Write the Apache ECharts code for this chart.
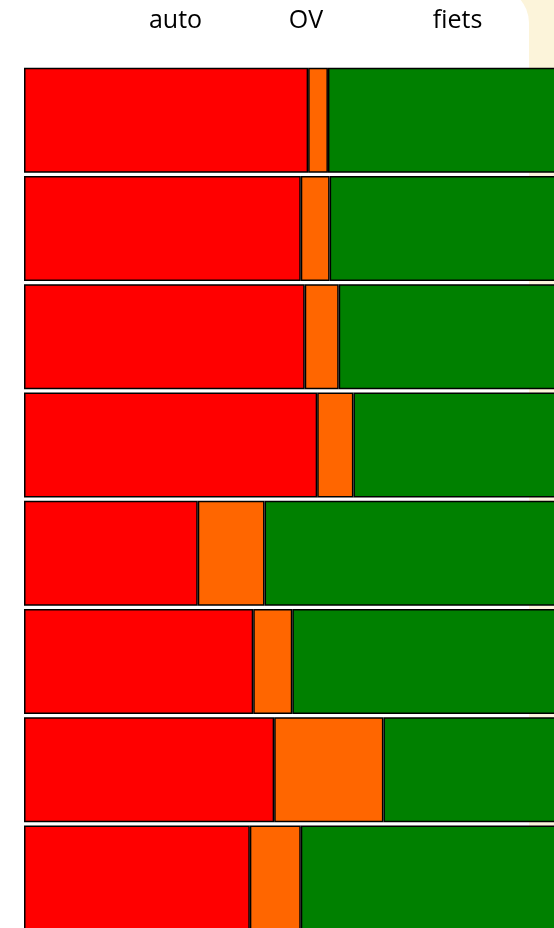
<!DOCTYPE html>
<html>
<head>
<meta charset="utf-8">
<script src="https://cdn.jsdelivr.net/npm/echarts@6/dist/echarts.min.js"></script>
<style>
html,body{margin:0;padding:0;background:#fcf4da;}
#chart{width:554px;height:928px;}
</style>
</head>
<body>
<div id="chart"></div>
<script>
var categories = ['1','2','3','4','5','6','7','8'];
var headers = ['auto','OV','fiets'];
var auto  = [50.2, 48.9, 49.6, 51.8, 30.7, 40.5, 44.2, 39.9];
var ov    = [3.5, 5.1, 6.0, 6.4, 11.8, 6.9, 19.3, 9.0];
var fiets = [46.3, 46.0, 44.4, 41.8, 57.5, 52.6, 36.5, 51.1];
var colors = ['#ff0000', '#ff6600', '#008000'];

var chart = echarts.init(document.getElementById('chart'));
function mk(name, data, color) {
  return {
    name: name, type: 'bar', stack: 'total', data: data, barWidth: 105,
    itemStyle: { color: color, borderColor: '#000', borderWidth: 1.5 },
    silent: true
  };
}
var hdrFont = '25px "Open Sans"';
chart.setOption({
  animation: false,
  backgroundColor: 'transparent',
  graphic: [
    { type: 'rect', z: -10, shape: { x: -30, y: -13, width: 559, height: 1000, r: 36 }, style: { fill: '#ffffff' } },
    { type: 'text', x: 175.5, y: 8, style: { text: headers[0], fill: '#000', font: hdrFont, align: 'center', verticalAlign: 'top' } },
    { type: 'text', x: 306, y: 8, style: { text: headers[1], fill: '#000', font: hdrFont, align: 'center', verticalAlign: 'top' } },
    { type: 'text', x: 457.5, y: 8, style: { text: headers[2], fill: '#000', font: hdrFont, align: 'center', verticalAlign: 'top' } }
  ],
  grid: { left: 24, top: 66, width: 566, height: 866, outerBoundsMode: 'none' },
  xAxis: { type: 'value', min: 0, max: 100, show: false },
  yAxis: { type: 'category', data: categories, inverse: true, show: false },
  series: [mk(headers[0], auto, colors[0]), mk(headers[1], ov, colors[1]), mk(headers[2], fiets, colors[2])]
});
</script>
</body>
</html>
